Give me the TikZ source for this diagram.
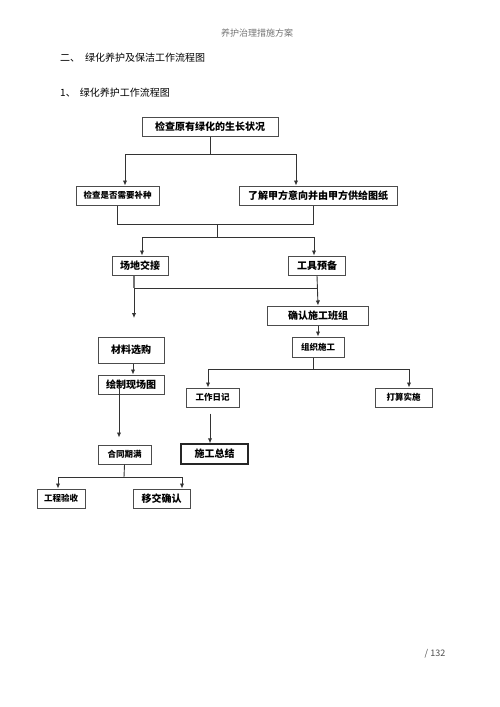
\documentclass[tikz,border=0pt]{standalone}
\usepackage{fontspec}
\newfontfamily\cjk{Noto Sans CJK SC}
\usetikzlibrary{arrows.meta}

\begin{document}
\begin{tikzpicture}[x=1pt, y=-1pt, >={Latex[length=5pt,width=4.4pt]},
	box/.style={draw=black!70, line width=1pt, fill=white, inner sep=0pt, minimum height=19, font=\cjk\bfseries\fontsize{10}{12}\selectfont},
	small/.style={font=\cjk\bfseries\fontsize{8.5}{10}\selectfont},
	link/.style={draw=black!80, line width=0.9pt},
	title/.style={anchor=west, inner sep=0pt, font=\cjk\fontsize{10}{12}\selectfont},]

\useasboundingbox (0,0) rectangle (500,707);

% page texts
\node[font=\cjk\fontsize{9}{11}\selectfont, text=black!55] (header) at (257,33) {养护治理措施方案};
\node[title] (section) at (60,58) {二、\hspace{5pt}绿化养护及保洁工作流程图};
\node[title] (subsection) at (60,93) {1、\hspace{4pt}绿化养护工作流程图};
\node[font=\cjk\fontsize{9}{10}\selectfont, text=black!70] (page) at (435,654) {/ 132};

% boxes
\node[box, minimum width=136] (survey) at (210,126.5) {检查原有绿化的生长状况};
\node[box, small, minimum width=83] (replant) at (117.5,195.5) {检查是否需要补种};
\node[box, minimum width=158] (drawings) at (318,195.5) {了解甲方意向并由甲方供给图纸};
\node[box, minimum width=56] (site) at (140,265.5) {场地交接};
\node[box, minimum width=57] (tools) at (317,265.5) {工具预备};
\node[box, minimum width=101] (team) at (318,315.5) {确认施工班组};
\node[box, small, minimum width=52, minimum height=20] (organize) at (318,347) {组织施工};
\node[box, minimum width=66, minimum height=26] (material) at (131,350) {材料选购};
\node[box, minimum width=66] (plan) at (131,384.5) {绘制现场图};
\node[box, small, minimum width=53] (diary) at (212.5,397.5) {工作日记};
\node[box, small, minimum width=57] (execute) at (403.5,397.5) {打算实施};
\node[box, small, minimum width=53] (expire) at (124.5,454.5) {合同期满};
\node[box, line width=1.4pt, draw=black!85, minimum width=67, minimum height=20] (summary) at (214.5,454) {施工总结};
\node[box, small, minimum width=48] (accept) at (61,498.5) {工程验收};
\node[box, minimum width=57] (handover) at (161.5,498.5) {移交确认};

% connectors
\coordinate (split1) at (210,154);
\draw[link] (survey.south) -- (split1);
\draw[link,->] (split1) -| ([xshift=7.5]replant.north);
\draw[link,->] (split1) -| ([xshift=-22]drawings.north);

\coordinate (merge1) at (217,224);
\coordinate (split2) at (217,237);
\draw[link] (replant.south) |- (merge1);
\draw[link] ([xshift=-5]drawings.south) |- (merge1);
\draw[link] (merge1) -- (split2);
\draw[link,->] (split2) -| ([xshift=2]site.north);
\draw[link,->] (split2) -| ([xshift=-3]tools.north);

\coordinate (merge2) at (134,288);
\coordinate (loose) at (134,318);
\draw[link, line width=2pt, draw=black!55] ([xshift=-6]site.south) -- (merge2);
\draw[link,->] (merge2) -- (loose);
\draw[link] (merge2) -- (merge2 -| tools.south);
\draw[link,->] (tools.south) -- (team.north);
\draw[link,->] (team.south) -- (organize.north);
\draw[link,->] ([xshift=2]material.south) -- ([xshift=2]plan.north);

\coordinate (split3) at (313,369);
\draw[link] ([xshift=-5]organize.south) -- (split3);
\draw[link,->] (split3) -| ([xshift=-4.5]diary.north);
\draw[link,->] (split3) -| ([xshift=5.5]execute.north);

\draw[link,->] ([xshift=-12,yshift=8]plan.south) -- ([xshift=-5.5,yshift=7]expire.north);
\draw[link,->] ([xshift=-2.5,yshift=-6]diary.south) -- ([xshift=-4.5]summary.north);

\coordinate (split4) at (124,477);
\draw[link] (expire.south) -- (split4);
\draw[link,->] (split4) -| ([xshift=-3]accept.north);
\draw[link,->] (split4) -| ([xshift=20.5]handover.north);
\end{tikzpicture}
\end{document}
